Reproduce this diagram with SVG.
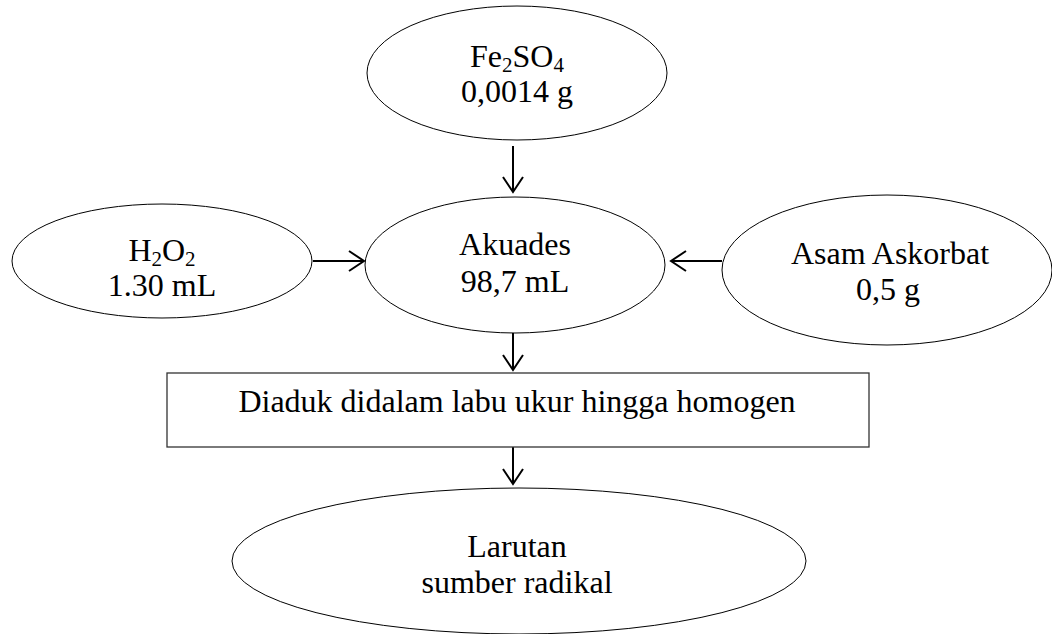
<svg xmlns="http://www.w3.org/2000/svg" width="1052" height="634" viewBox="0 0 1052 634">
<defs>
<style>
.n{fill:#fff;stroke:#000;stroke-width:1}
.b{fill:#fff;stroke:#333;stroke-width:1.3}
.t{font-family:"Liberation Serif","Times New Roman",serif;font-size:32px;fill:#000;text-anchor:middle}
.s{font-size:21px}
.c{stroke:#000;stroke-width:2;fill:none}
</style>
<marker id="ah" viewBox="0 0 20 22" refX="18" refY="11" markerWidth="20" markerHeight="22" markerUnits="userSpaceOnUse" orient="auto">
<path d="M3 1 L18 11 L3 21" fill="none" stroke="#000" stroke-width="2"/>
</marker>
</defs>
<rect width="1052" height="634" fill="#fff"/>
<g id="connectors">
<line class="c" x1="513" y1="146" x2="513" y2="192" marker-end="url(#ah)"/>
<line class="c" x1="313" y1="261" x2="364" y2="261" marker-end="url(#ah)"/>
<line class="c" x1="722" y1="261" x2="671" y2="261" marker-end="url(#ah)"/>
<line class="c" x1="513" y1="333" x2="513" y2="370" marker-end="url(#ah)"/>
<line class="c" x1="513" y1="447" x2="513" y2="484" marker-end="url(#ah)"/>
</g>
<g id="fe2so4">
<ellipse class="n" cx="517" cy="73" rx="150" ry="67"/>
<text class="t" x="517" y="67">Fe<tspan class="s" dy="5">2</tspan><tspan dy="-5">SO</tspan><tspan class="s" dy="5">4</tspan></text>
<text class="t" x="517" y="102">0,0014 g</text>
</g>
<g id="h2o2">
<ellipse class="n" cx="162" cy="261" rx="150" ry="57"/>
<text class="t" x="162" y="261">H<tspan class="s" dy="5">2</tspan><tspan dy="-5">O</tspan><tspan class="s" dy="5">2</tspan></text>
<text class="t" x="162" y="296">1.30 mL</text>
</g>
<g id="akuades">
<ellipse class="n" cx="515" cy="265" rx="150" ry="68"/>
<text class="t" x="515" y="255">Akuades</text>
<text class="t" x="515" y="292">98,7 mL</text>
</g>
<g id="asam">
<ellipse class="n" cx="887" cy="270" rx="165" ry="75"/>
<text class="t" x="890" y="264">Asam Askorbat</text>
<text class="t" x="888" y="300">0,5 g</text>
</g>
<g id="diaduk">
<rect class="b" x="167" y="373" width="702" height="74"/>
<text class="t" x="517" y="412">Diaduk didalam labu ukur hingga homogen</text>
</g>
<g id="larutan">
<ellipse class="n" cx="519" cy="561" rx="287" ry="73"/>
<text class="t" x="517" y="557">Larutan</text>
<text class="t" x="517" y="593">sumber radikal</text>
</g>
</svg>
